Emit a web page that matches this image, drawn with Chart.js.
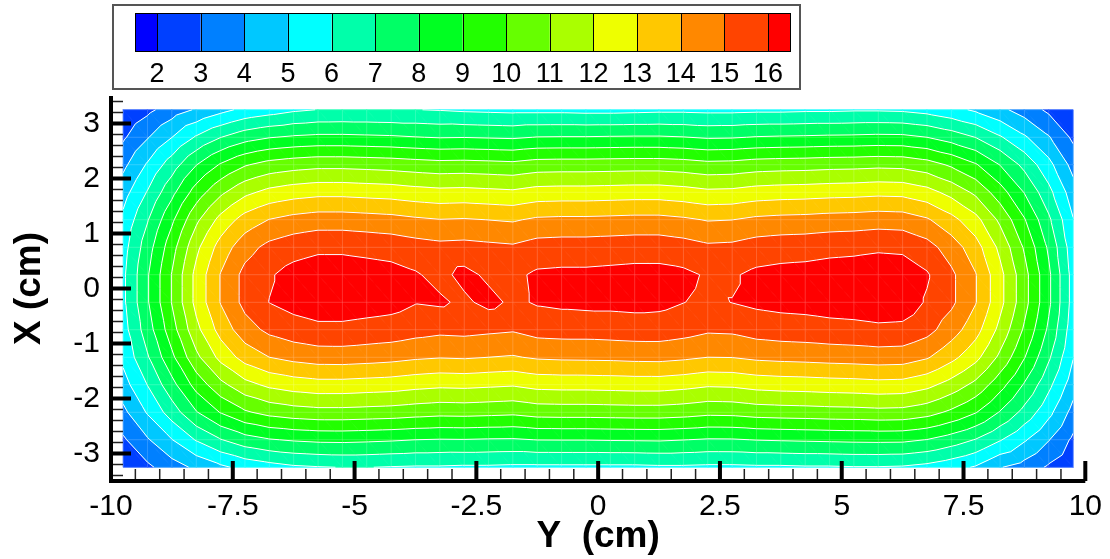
<!DOCTYPE html>
<html>
<head>
<meta charset="utf-8">
<script src="https://cdn.jsdelivr.net/npm/chart.js@4.4.0/dist/chart.umd.min.js"></script>
<style>
  html, body { margin: 0; padding: 0; background: #fff; }
  #chart { display: block; }
</style>
</head>
<body>
<canvas id="chart" width="1110" height="559"></canvas>
<script>
// grid columns along the horizontal axis (Y, cm)
const yPositions = [-9.75, -9.25, -8.75, -8.25, -7.75, -7.25, -6.75, -6.25, -5.75, -5.25,
  -4.75, -4.25, -3.75, -3.25, -2.75, -2.25, -1.75, -1.25, -0.75, -0.25,
  0.25, 0.75, 1.25, 1.75, 2.25, 2.75, 3.25, 3.75, 4.25, 4.75,
  5.25, 5.75, 6.25, 6.75, 7.25, 7.75, 8.25, 8.75, 9.25, 9.75];
// grid rows along the vertical axis (X, cm), top to bottom
const xPositions = [3.25, 2.75, 2.25, 1.75, 1.25, 0.75, 0.25, -0.25, -0.75, -1.25, -1.75, -2.25, -2.75, -3.25];

// measured values, one array per row
const rowX325 = [2.05, 2.75, 3.5, 4.1, 4.7, 5.25, 5.55, 5.85, 6.02, 6.05, 6.05, 6.02, 6.02, 5.95, 5.85, 5.8, 5.75, 5.75, 5.75, 5.7, 5.7, 5.75, 5.8, 5.8, 5.75, 5.75, 5.8, 5.8, 5.85, 5.85, 5.9, 5.9, 5.85, 5.65, 5.3, 4.85, 4.25, 3.55, 2.8, 2.1];
const rowX275 = [2.85, 3.93, 4.99, 6.11, 6.98, 7.6, 7.95, 8.13, 8.23, 8.23, 8.18, 8.13, 8.03, 7.95, 7.98, 7.93, 7.88, 8.03, 8.05, 8.05, 8.08, 8.1, 8.1, 8.03, 7.9, 7.93, 8.05, 8.1, 8.13, 8.18, 8.2, 8.25, 8.23, 8.0, 7.55, 6.98, 6.11, 5.14, 4.08, 2.8];
const rowX225 = [3.75, 5.12, 6.51, 7.97, 9.1, 9.91, 10.37, 10.59, 10.72, 10.72, 10.66, 10.59, 10.47, 10.37, 10.4, 10.34, 10.27, 10.47, 10.5, 10.5, 10.53, 10.56, 10.56, 10.47, 10.3, 10.34, 10.5, 10.56, 10.59, 10.66, 10.69, 10.76, 10.72, 10.43, 9.85, 9.1, 7.97, 6.71, 5.31, 3.65];
const rowX175 = [4.6, 6.07, 7.72, 9.45, 10.79, 11.75, 12.29, 12.56, 12.71, 12.71, 12.63, 12.56, 12.4, 12.29, 12.33, 12.25, 12.17, 12.4, 12.44, 12.44, 12.48, 12.52, 12.52, 12.4, 12.21, 12.25, 12.44, 12.52, 12.56, 12.63, 12.67, 12.75, 12.71, 12.36, 11.67, 10.79, 9.45, 7.95, 6.3, 4.45];
const rowX125 = [5.25, 6.93, 8.81, 10.79, 12.32, 13.42, 14.03, 14.34, 14.51, 14.51, 14.43, 14.34, 14.16, 14.03, 14.08, 13.99, 13.9, 14.16, 14.21, 14.21, 14.25, 14.3, 14.3, 14.16, 13.94, 13.99, 14.21, 14.3, 14.34, 14.43, 14.47, 14.56, 14.51, 14.12, 13.33, 12.32, 10.79, 9.08, 7.19, 5.05];
const rowX075 = [5.6, 7.54, 9.6, 11.75, 13.42, 14.61, 15.28, 15.61, 15.8, 15.8, 15.71, 15.61, 15.42, 15.28, 15.33, 15.23, 15.14, 15.42, 15.47, 15.47, 15.52, 15.57, 15.57, 15.42, 15.18, 15.23, 15.47, 15.57, 15.61, 15.71, 15.76, 15.85, 15.8, 15.38, 14.52, 13.42, 11.75, 9.88, 7.83, 5.4];
const rowX025 = [5.8, 7.9, 10.05, 12.3, 14.05, 15.3, 15.9, 16.35, 16.55, 16.55, 16.45, 16.35, 16.1, 15.7, 16.3, 15.8, 15.8, 16.15, 16.2, 16.2, 16.25, 16.3, 16.3, 16.2, 15.9, 15.9, 16.2, 16.3, 16.35, 16.45, 16.5, 16.6, 16.55, 16.1, 15.2, 14.05, 12.3, 10.35, 8.2, 5.6];
const rowXm025 = [5.8, 7.9, 10.05, 12.3, 14.05, 15.3, 16.02, 16.35, 16.55, 16.55, 16.45, 16.35, 16.05, 16.15, 15.8, 16.3, 15.8, 16.1, 16.2, 16.25, 16.25, 16.3, 16.25, 16.02, 15.8, 16.02, 16.2, 16.3, 16.35, 16.45, 16.5, 16.6, 16.55, 15.9, 15.2, 14.05, 12.3, 10.35, 8.2, 5.6];
const rowXm075 = [5.6, 7.52, 9.57, 11.71, 13.38, 14.57, 15.23, 15.57, 15.76, 15.76, 15.66, 15.57, 15.37, 15.23, 15.28, 15.18, 15.09, 15.37, 15.42, 15.42, 15.47, 15.52, 15.52, 15.37, 15.14, 15.18, 15.42, 15.52, 15.57, 15.66, 15.71, 15.8, 15.76, 15.33, 14.47, 13.38, 11.71, 9.85, 7.81, 5.4];
const rowXm125 = [5.25, 6.9, 8.78, 10.75, 12.3, 13.4, 14.0, 14.3, 14.48, 14.5, 14.42, 14.32, 14.15, 14.05, 14.1, 14.0, 13.92, 14.12, 14.18, 14.2, 14.22, 14.28, 14.3, 14.18, 14.0, 14.02, 14.2, 14.28, 14.33, 14.4, 14.45, 14.52, 14.48, 14.1, 13.3, 12.3, 10.78, 9.05, 7.15, 5.05];
const rowXm175 = [4.6, 6.03, 7.67, 9.38, 10.72, 11.67, 12.21, 12.48, 12.63, 12.63, 12.55, 12.48, 12.32, 12.21, 12.25, 12.17, 12.09, 12.32, 12.36, 12.36, 12.4, 12.44, 12.44, 12.32, 12.13, 12.17, 12.36, 12.44, 12.48, 12.55, 12.59, 12.67, 12.63, 12.28, 11.6, 10.72, 9.38, 7.9, 6.26, 4.45];
const rowXm225 = [3.75, 5.1, 6.48, 7.93, 9.06, 9.87, 10.32, 10.55, 10.67, 10.67, 10.61, 10.55, 10.42, 10.32, 10.35, 10.29, 10.22, 10.42, 10.45, 10.45, 10.48, 10.51, 10.51, 10.42, 10.26, 10.29, 10.45, 10.51, 10.55, 10.61, 10.64, 10.71, 10.67, 10.38, 9.8, 9.06, 7.93, 6.68, 5.29, 3.65];
const rowXm275 = [2.85, 3.9, 4.97, 6.08, 6.95, 7.58, 7.93, 8.1, 8.2, 8.22, 8.17, 8.1, 8.0, 7.95, 7.97, 7.92, 7.9, 8.02, 8.03, 8.03, 8.06, 8.08, 8.1, 8.02, 7.92, 7.93, 8.03, 8.08, 8.12, 8.16, 8.2, 8.22, 8.2, 7.98, 7.52, 6.95, 6.08, 5.12, 4.05, 2.8];
const rowXm325 = [2.1, 2.8, 3.55, 4.2, 4.8, 5.3, 5.6, 5.85, 5.95, 6.02, 6.02, 5.95, 5.9, 5.9, 5.85, 5.85, 5.8, 5.8, 5.8, 5.8, 5.8, 5.8, 5.85, 5.85, 5.8, 5.8, 5.85, 5.85, 5.9, 5.9, 5.95, 5.95, 5.9, 5.7, 5.35, 4.9, 4.05, 3.6, 2.85, 2.15];

const field = [rowX325, rowX275, rowX225, rowX175, rowX125, rowX075, rowX025,
  rowXm025, rowXm075, rowXm125, rowXm175, rowXm225, rowXm275, rowXm325];

// contour levels and band colours (below first level ... above last level)
const levels = [2, 3, 4, 5, 6, 7, 8, 9, 10, 11, 12, 13, 14, 15, 16];
const levelColors = ['#0000ff', '#0040ff', '#0080ff', '#00c8ff', '#00ffff', '#00ffaa', '#00ff66',
  '#00ff22', '#22ff00', '#66ff00', '#aaff00', '#eeff00', '#ffc800', '#ff8800', '#ff4400', '#ff0000'];

const xTickValues = [-10, -7.5, -5, -2.5, 0, 2.5, 5, 7.5, 10];
const yTickValues = [-3, -2, -1, 0, 1, 2, 3];

const fontFamily = "'Liberation Sans', Arial, Helvetica, sans-serif";

// keep the part of a polygon where keep(p) >= 0
function cutPolygon(poly, keep) {
  const res = [];
  for (let i = 0; i < poly.length; i++) {
    const a = poly[i];
    const b = poly[(i + 1) % poly.length];
    const fa = keep(a);
    const fb = keep(b);
    if (fa >= 0) res.push(a);
    if ((fa >= 0) !== (fb >= 0)) {
      const t = fa / (fa - fb);
      res.push({ x: a.x + (b.x - a.x) * t, y: a.y + (b.y - a.y) * t, v: a.v + (b.v - a.v) * t });
    }
  }
  return res;
}

const contourPlugin = {
  id: 'contour',
  beforeDatasetsDraw(chart) {
    const { ctx, scales: { x, y } } = chart;
    const px = yPositions.map(v => x.getPixelForValue(v));
    const py = xPositions.map(v => y.getPixelForValue(v));
    const node = (i, j) => ({ x: px[j], y: py[i], v: field[i][j] });
    const tris = [];
    for (let i = 0; i < xPositions.length - 1; i++) {
      for (let j = 0; j < yPositions.length - 1; j++) {
        const tl = node(i, j), tr = node(i, j + 1), bl = node(i + 1, j), br = node(i + 1, j + 1);
        tris.push([tl, tr, br], [tl, br, bl]);
      }
    }

    ctx.save();
    ctx.lineJoin = 'round';
    ctx.lineWidth = 0.8;
    tris.forEach(tri => {
      for (let k = 0; k < levelColors.length; k++) {
        const lo = k === 0 ? -Infinity : levels[k - 1];
        const hi = k === levels.length ? Infinity : levels[k];
        let poly = cutPolygon(tri, p => p.v - lo);
        poly = cutPolygon(poly, p => hi - p.v);
        if (poly.length < 3) continue;
        ctx.beginPath();
        ctx.moveTo(poly[0].x, poly[0].y);
        poly.slice(1).forEach(p => ctx.lineTo(p.x, p.y));
        ctx.closePath();
        ctx.fillStyle = levelColors[k];
        ctx.strokeStyle = levelColors[k];
        ctx.fill();
        ctx.stroke();
      }
    });

    // faint mesh
    ctx.strokeStyle = 'rgba(255,255,255,0.17)';
    ctx.lineWidth = 1;
    ctx.beginPath();
    px.forEach(p => { ctx.moveTo(p, py[0]); ctx.lineTo(p, py[py.length - 1]); });
    py.forEach(p => { ctx.moveTo(px[0], p); ctx.lineTo(px[px.length - 1], p); });
    ctx.stroke();

    // contour lines
    ctx.strokeStyle = '#ffffff';
    ctx.lineWidth = 1;
    ctx.beginPath();
    tris.forEach(tri => {
      levels.forEach(L => {
        const pts = [];
        for (let e = 0; e < 3; e++) {
          const a = tri[e];
          const b = tri[(e + 1) % 3];
          if ((a.v >= L) !== (b.v >= L)) {
            const t = (L - a.v) / (b.v - a.v);
            pts.push([a.x + (b.x - a.x) * t, a.y + (b.y - a.y) * t]);
          }
        }
        if (pts.length === 2) {
          ctx.moveTo(pts[0][0], pts[0][1]);
          ctx.lineTo(pts[1][0], pts[1][1]);
        }
      });
    });
    ctx.stroke();
    ctx.restore();
  }
};

const axesPlugin = {
  id: 'axesFrame',
  afterDraw(chart) {
    const { ctx, chartArea: ca, scales: { x, y } } = chart;
    ctx.save();
    ctx.strokeStyle = '#222';
    ctx.lineWidth = 1.5;
    ctx.beginPath();
    for (let v = x.min; v <= x.max + 1e-9; v += 0.5) {
      const p = x.getPixelForValue(v);
      ctx.moveTo(p, ca.bottom);
      ctx.lineTo(p, ca.bottom - 12);
    }
    for (let v = y.min + 0.1; v <= y.max + 1e-9; v += 0.2) {
      const p = y.getPixelForValue(v);
      ctx.moveTo(ca.left, p);
      ctx.lineTo(ca.left + 12, p);
    }
    ctx.stroke();

    ctx.strokeStyle = '#000';
    ctx.lineWidth = 4;
    ctx.beginPath();
    xTickValues.forEach(v => {
      const p = x.getPixelForValue(v);
      ctx.moveTo(p, ca.bottom);
      ctx.lineTo(p, ca.bottom - 20);
    });
    yTickValues.forEach(v => {
      const p = y.getPixelForValue(v);
      ctx.moveTo(ca.left, p);
      ctx.lineTo(ca.left + 20, p);
    });
    ctx.moveTo(ca.left, ca.top);
    ctx.lineTo(ca.left, ca.bottom);
    ctx.lineTo(ca.right, ca.bottom);
    ctx.stroke();
    ctx.restore();
  }
};

const colorbarPlugin = {
  id: 'colorbar',
  afterDraw(chart) {
    const { ctx } = chart;
    const barLeft = 135, barRight = 790, barTop = 13, barBottom = 51;
    const first = 157, last = 768;
    const step = (last - first) / (levels.length - 1);
    const edges = [barLeft].concat(levels.map((_, k) => first + k * step), [barRight]);
    ctx.save();
    levelColors.forEach((c, k) => {
      ctx.fillStyle = c;
      ctx.fillRect(edges[k], barTop, edges[k + 1] - edges[k], barBottom - barTop);
    });
    ctx.strokeStyle = '#000';
    ctx.lineWidth = 1;
    ctx.beginPath();
    edges.slice(1, -1).forEach(e => {
      ctx.moveTo(Math.round(e) + 0.5, barTop);
      ctx.lineTo(Math.round(e) + 0.5, barBottom);
    });
    ctx.stroke();
    ctx.strokeRect(barLeft + 0.5, barTop + 0.5, barRight - barLeft, barBottom - barTop);
    ctx.strokeStyle = '#555';
    ctx.lineWidth = 2;
    ctx.strokeRect(113, 5, 687, 84);
    ctx.fillStyle = '#000';
    ctx.font = '27px ' + fontFamily;
    ctx.textAlign = 'center';
    ctx.textBaseline = 'middle';
    levels.forEach((lv, k) => ctx.fillText(String(lv), edges[k + 1], 75));
    ctx.restore();
  }
};

const nodes = [];
xPositions.forEach((xv, i) => yPositions.forEach((yv, j) => nodes.push({ x: yv, y: xv, v: field[i][j] })));

new Chart(document.getElementById('chart'), {
  type: 'scatter',
  data: {
    datasets: [{ label: 'nodes', data: nodes, pointRadius: 0, showLine: false }]
  },
  options: {
    responsive: false,
    animation: false,
    devicePixelRatio: 1,
    layout: { padding: { top: 96, right: 20, left: 0, bottom: 0 } },
    plugins: { legend: { display: false }, tooltip: { enabled: false } },
    scales: {
      x: {
        type: 'linear',
        min: -10,
        max: 10,
        grid: { display: false, drawTicks: false },
        border: { display: false },
        afterBuildTicks: s => { s.ticks = xTickValues.map(v => ({ value: v })); },
        afterFit: s => { s.height = 78; },
        ticks: {
          color: '#000',
          font: { family: fontFamily, size: 30 },
          padding: 8,
          maxRotation: 0,
          autoSkip: false,
          callback: v => String(v)
        },
        title: {
          display: true,
          text: 'Y  (cm)',
          color: '#000',
          font: { family: fontFamily, size: 37, weight: 'bold' },
          padding: { top: 0, bottom: 0 }
        }
      },
      y: {
        type: 'linear',
        min: -3.5,
        max: 3.5,
        grid: { display: false, drawTicks: false },
        border: { display: false },
        afterBuildTicks: s => { s.ticks = yTickValues.map(v => ({ value: v })); },
        afterFit: s => { s.width = 111; },
        ticks: {
          color: '#000',
          font: { family: fontFamily, size: 30 },
          padding: 11,
          autoSkip: false,
          callback: v => String(v)
        },
        title: {
          display: true,
          text: 'X (cm)',
          color: '#000',
          font: { family: fontFamily, size: 37, weight: 'bold' },
          padding: { top: 8, bottom: 0 }
        }
      }
    }
  },
  plugins: [contourPlugin, axesPlugin, colorbarPlugin]
});
</script>
</body>
</html>
